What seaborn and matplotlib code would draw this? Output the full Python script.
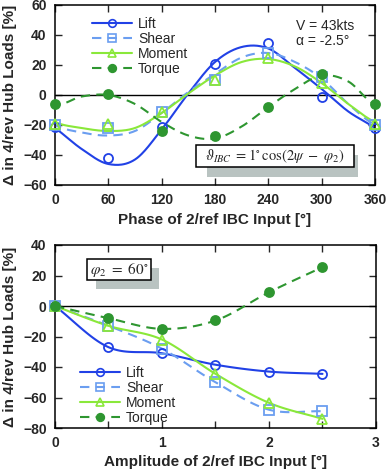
import numpy as np
import pandas as pd
import matplotlib
matplotlib.use("Agg")
import matplotlib.pyplot as plt
from matplotlib.lines import Line2D
from matplotlib.patches import Rectangle
import seaborn as sns

# ---------------- data ----------------
phase = [0, 60, 120, 180, 240, 300, 360]
lift_phase = [-21, -42, -21, 21, 35, -1, -22]
shear_phase = [-20, -22, -11, 10, 28, 12, -20]
moment_phase = [-19, -19, -11, 10, 25, 8, -19]
torque_phase = [-6, 1, -24, -27, -8, 14, -6]

# fitted curves (every 30 deg)
fit_phase = [0, 30, 60, 90, 120, 150, 180, 210, 240, 270, 300, 330, 360]
lift_fit = [-22, -36, -46, -43, -23, 1, 22, 32, 31, 18, 4, -11, -22]
shear_fit = [-20, -25, -27, -24, -12, 2, 14, 25, 28, 22, 11, -6, -20]
moment_fit = [-18, -22, -24, -22, -12, 1, 13, 22, 24, 19, 8, -6, -18]
torque_fit = [-6, -1, 0, -6, -18, -27, -29, -21, -8, 4, 13, 9, -6]

amp = [0, 0.5, 1, 1.5, 2, 2.5]
lift_amp = [0, -27, -31, -38.5, -43, -44.5]
shear_amp = [0, -13, -28, -50, -68, -69]
moment_amp = [0, -13, -22, -44.5, -63.5, -74]
torque_amp = [0, -8, -15, -9.5, 9, 25.5]

names = ["Lift", "Shear", "Moment", "Torque"]

# ---------------- style ----------------
sns.set_style("ticks")
plt.rcParams["font.family"] = ["Liberation Sans", "DejaVu Sans"]
plt.rcParams["mathtext.fontset"] = "stix"

colors = {"Lift": "#2141e6", "Shear": "#6b9ef0", "Moment": "#8ae83a", "Torque": "#2e9630"}
dash = (0, (4.5, 3))
styles = {
    "Lift": dict(ls="-", marker="o", mfc="none", ms=6.5),
    "Shear": dict(ls=dash, marker="s", mfc="none", ms=6.5),
    "Moment": dict(ls="-", marker="^", mfc="none", ms=7),
    "Torque": dict(ls=dash, marker="o", mfc=colors["Torque"], ms=6.5),
}


def catmull(x, y, n=24):
    P = np.column_stack([np.asarray(x, float), np.asarray(y, float)])
    P = np.vstack([2 * P[0] - P[1], P, 2 * P[-1] - P[-2]])
    t = np.linspace(0, 1, n, endpoint=False)[:, None]
    out = []
    for i in range(1, len(P) - 2):
        p0, p1, p2, p3 = P[i - 1], P[i], P[i + 1], P[i + 2]
        seg = 0.5 * (2 * p1 + (-p0 + p2) * t + (2 * p0 - 5 * p1 + 4 * p2 - p3) * t ** 2
                     + (-p0 + 3 * p1 - 3 * p2 + p3) * t ** 3)
        out.append(seg)
    out.append(P[-2][None, :])
    r = np.vstack(out)
    return r[:, 0], r[:, 1]


def periodic_curve(xs, ys):
    xe = [xs[0] - (xs[1] - xs[0])] + list(xs) + [xs[-1] + (xs[-1] - xs[-2])]
    ye = [ys[-2]] + list(ys) + [ys[1]]
    cx, cy = catmull(xe, ye)
    return cx, cy


fig = plt.figure(figsize=(3.88, 4.72), dpi=100)
ax1 = fig.add_axes([55 / 388, 1 - 185 / 472, 320 / 388, 180 / 472])
ax2 = fig.add_axes([55 / 388, 1 - 428 / 472, 321 / 388, 183 / 472])

lw = 1.5


def draw(ax, name, cx, cy, px, py):
    st = styles[name]
    c = colors[name]
    sns.lineplot(x=cx, y=cy, ax=ax, color=c, linewidth=lw, linestyle=st["ls"],
                 sort=False, errorbar=None, clip_on=True)
    sns.lineplot(x=px, y=py, ax=ax, color=c, linestyle="none", marker=st["marker"],
                 markersize=st["ms"], markerfacecolor=st["mfc"], markeredgecolor=c,
                 markeredgewidth=1.3, errorbar=None, clip_on=False, zorder=5)


# ---- top ----
top_fits = {"Lift": lift_fit, "Shear": shear_fit, "Moment": moment_fit, "Torque": torque_fit}
top_pts = {"Lift": lift_phase, "Shear": shear_phase, "Moment": moment_phase, "Torque": torque_phase}
ax1.axhline(0, color="black", lw=1.0, zorder=1)
for nm in names:
    cx, cy = periodic_curve(fit_phase, top_fits[nm])
    draw(ax1, nm, cx, cy, phase, top_pts[nm])
ax1.set_xlim(0, 360)
ax1.set_ylim(-60, 60)
ax1.set_xticks(np.arange(0, 361, 60))
ax1.set_yticks(np.arange(-60, 61, 20))

# ---- bottom ----
bot_pts = {"Lift": lift_amp, "Shear": shear_amp, "Moment": moment_amp, "Torque": torque_amp}
ax2.axhline(0, color="black", lw=1.0, zorder=1)
for nm in names:
    cx, cy = catmull(amp, bot_pts[nm])
    draw(ax2, nm, cx, cy, amp, bot_pts[nm])
ax2.set_xlim(0, 3)
ax2.set_ylim(-80, 40)
ax2.set_xticks([0, 1, 2, 3])
ax2.set_xticks([0.5, 1.5, 2.5], minor=True)
ax2.set_yticks(np.arange(-80, 41, 20))

for ax in (ax1, ax2):
    ax.tick_params(which="both", direction="in", top=True, right=True, length=5, width=1,
                   labelsize=10, pad=6)
    for lab in ax.get_xticklabels() + ax.get_yticklabels():
        lab.set_fontweight("bold")
    for sp in ax.spines.values():
        sp.set_linewidth(1.1)
        sp.set_color("black")
    ax.set_ylabel("Δ in 4/rev Hub Loads [%]", fontsize=11, fontweight="bold")
    ax.yaxis.set_label_coords(-45 / 320, 0.5)
    ax.yaxis.label.set_va("center")

ax1.set_xlabel("Phase of 2/ref IBC Input [°]", fontsize=11, fontweight="bold")
ax1.xaxis.set_label_coords(0.5, -35 / 180)
ax1.xaxis.label.set_va("center")
ax2.set_xlabel("Amplitude of 2/ref IBC Input [°]", fontsize=11, fontweight="bold")
ax2.xaxis.set_label_coords(0.5, -34 / 183)
ax2.xaxis.label.set_va("center")

# legends
handles = [Line2D([], [], color=colors[n], lw=lw, linestyle=styles[n]["ls"],
                  marker=styles[n]["marker"], markersize=styles[n]["ms"] - 1,
                  markerfacecolor=styles[n]["mfc"], markeredgecolor=colors[n],
                  markeredgewidth=1.2) for n in names]
for ax, anchor in ((ax1, ((92 - 55) / 320, (185 - 17) / 180)),
                   (ax2, ((80 - 55) / 321, (428 - 366) / 183))):
    ax.legend(handles, names, loc="upper left", bbox_to_anchor=anchor, frameon=False,
              fontsize=10, handlelength=2.9, handletextpad=0.4, labelspacing=0.08,
              borderpad=0, borderaxespad=0)

# annotations top
ax1.text(271, 46, "V = 43kts", fontsize=10, va="center", ha="left")
ax1.text(271, 36.3, "α = -2.5°", fontsize=10, va="center", ha="left")
ax1.add_patch(Rectangle((171, -54.7), 170, 14.7, facecolor="#b9c3c1", edgecolor="none", zorder=6))
ax1.add_patch(Rectangle((158.6, -48), 177.4, 14.7, facecolor="white", edgecolor="black",
                        lw=1.1, zorder=7))
ax1.text(247.3, -40.7, r"$\vartheta_{IBC}\ = 1^{\circ}\,\mathrm{cos}(2\psi\ -\ \varphi_{2})$",
         fontsize=10.5, ha="center", va="center", zorder=8)

# annotations bottom
ax2.add_patch(Rectangle((0.383, 11), 0.589, 13.8, facecolor="#b9c3c1", edgecolor="none", zorder=6))
ax2.add_patch(Rectangle((0.299, 16.9), 0.598, 13.9, facecolor="white", edgecolor="black",
                        lw=1.1, zorder=7))
ax2.text(0.598, 23.9, r"$\varphi_{2}\ =\ 60^{\circ}$", fontsize=11, ha="center", va="center", zorder=8)

fig.savefig("out.png", dpi=100)
